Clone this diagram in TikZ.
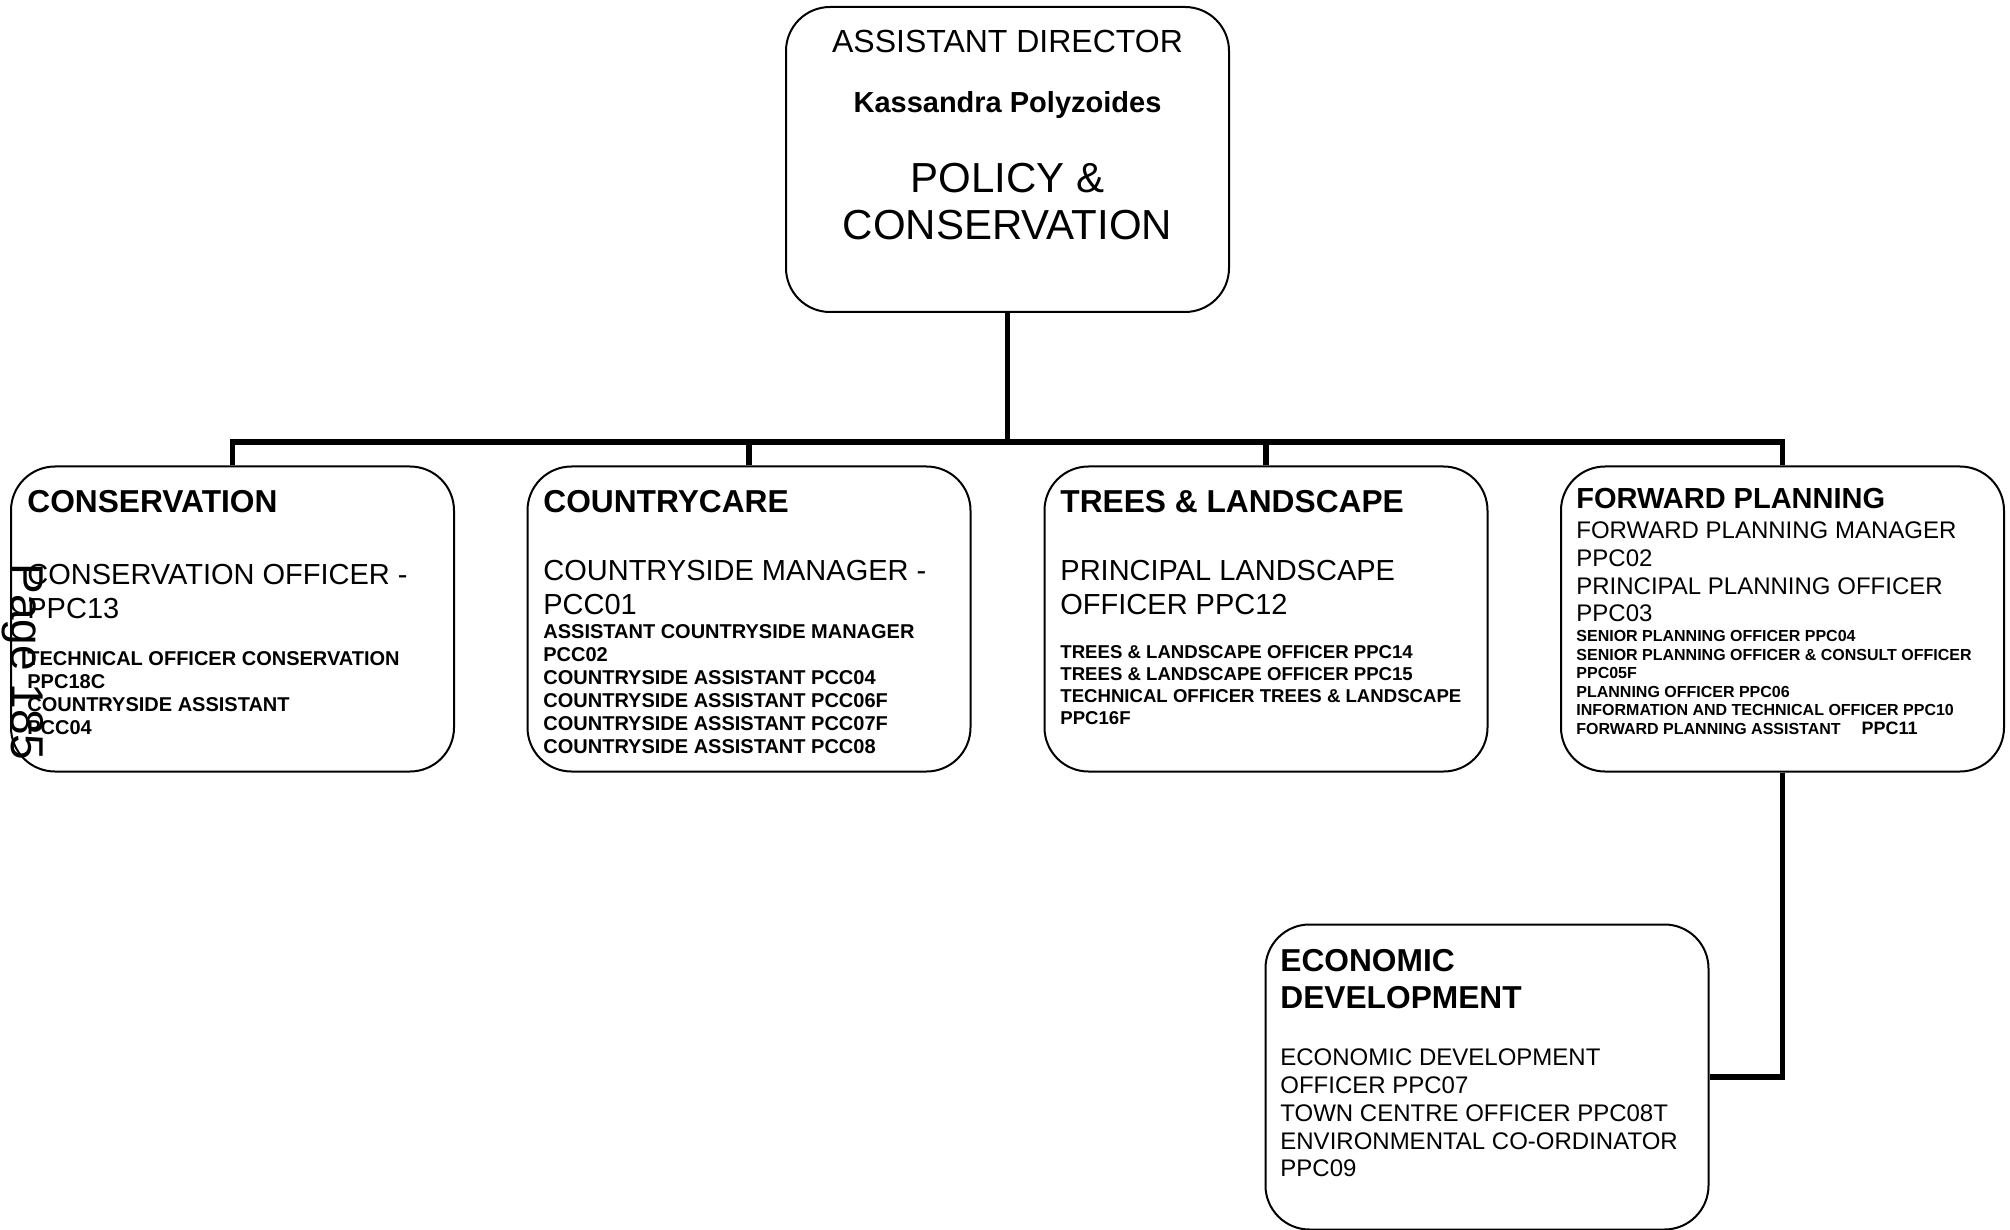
\documentclass[tikz,border=0pt]{standalone}
\usepackage{fontspec}
\setmainfont{Liberation Sans}
\usetikzlibrary{positioning}

\newcommand\fsz[2]{\fontsize{#1}{#2}\selectfont}

\begin{document}
\begin{tikzpicture}[x=0.5pt,y=-0.5pt,
 unit/.style={draw,line width=1pt,rounded corners=22pt,minimum width=221.5pt,minimum height=152.5pt,inner sep=0pt},
 txt/.style={anchor=north west,inner sep=0pt,align=left},
 head/.style={txt,font=\fsz{15.85}{18.5}\bfseries},
 post/.style={txt,font=\fsz{14.5}{16.75}},
 staff/.style={txt,font=\fsz{10}{11.5}\bfseries},
 link/.style={line width=2.8pt}]
\useasboundingbox (0,0) rectangle (2010,1230);

% boxes
\node[unit] (dir) at (1007.5,159.5) {};
\node[unit] (cons) at (232.5,619) {};
\node[unit] (care) at (749,619) {};
\node[unit] (trees) at (1266,619) {};
\node[unit] (fwd) at (1782.5,619) {};
\node[unit] (econ) at (1487,1077) {};

% lines
\coordinate (bus) at (1007.5,442);
\draw[link] (dir.south) -- (bus);
\draw[link] (cons.north) -- (cons.north |- bus) -- (fwd.north |- bus) -- (fwd.north);
\foreach \b in {care,trees} \draw[link] (\b.north) -- (\b.north |- bus);
\draw[link] (fwd.south) |- (econ.east);

% head of service
\node[font=\fsz{16}{19},anchor=base] (dir-a) at (1007.5,53) {ASSISTANT DIRECTOR};
\node[font=\fsz{14.5}{17}\bfseries,anchor=base] (dir-b) at (1007.5,113) {Kassandra Polyzoides};
\node[font=\fsz{21}{23.5},align=center,anchor=north,inner sep=0pt] (dir-c) at (1007.5,163) {POLICY \&\\CONSERVATION};

% conservation
\node[head] (cons-h) at (27,490) {CONSERVATION};
\node[post] (cons-p) at (27,564) {CONSERVATION OFFICER -\\PPC13};
\node[staff] (cons-s) at (27,651.5) {TECHNICAL OFFICER CONSERVATION\\PPC18C\\COUNTRYSIDE ASSISTANT\\PCC04};

% countrycare
\node[head] (care-h) at (543,490) {COUNTRYCARE};
\node[post] (care-p) at (543,560) {COUNTRYSIDE MANAGER -\\PCC01};
\node[staff] (care-s) at (543,624.5) {ASSISTANT COUNTRYSIDE MANAGER\\PCC02\\COUNTRYSIDE ASSISTANT PCC04\\COUNTRYSIDE ASSISTANT PCC06F\\COUNTRYSIDE ASSISTANT PCC07F\\COUNTRYSIDE ASSISTANT PCC08};

% trees
\node[head] (trees-h) at (1060,490) {TREES \& LANDSCAPE};
\node[post] (trees-p) at (1060,560) {PRINCIPAL LANDSCAPE\\OFFICER PPC12};
\node[staff,font=\fsz{9.3}{11}\bfseries] (trees-s) at (1060,645.5) {TREES \& LANDSCAPE OFFICER PPC14\\TREES \& LANDSCAPE OFFICER PPC15\\TECHNICAL OFFICER TREES \& LANDSCAPE\\PPC16F};

% forward planning
\node[head,font=\fsz{14.5}{17}\bfseries] (fwd-h) at (1576,488) {FORWARD PLANNING};
\node[txt,font=\fsz{12}{13.85}] (fwd-p) at (1576,521.5) {FORWARD PLANNING MANAGER\\PPC02\\PRINCIPAL PLANNING OFFICER\\PPC03};
\node[staff,font=\fsz{8}{9.3}\bfseries] (fwd-s) at (1576,630) {SENIOR PLANNING OFFICER PPC04\\SENIOR PLANNING OFFICER \& CONSULT OFFICER\\PPC05F\\PLANNING OFFICER PPC06\\INFORMATION AND TECHNICAL OFFICER PPC10\\FORWARD PLANNING ASSISTANT\hspace{10.5pt}{\fsz{9}{9.3}PPC11}};

% economic development
\node[head] (econ-h) at (1280,949) {ECONOMIC\\DEVELOPMENT};
\node[txt,font=\fsz{12}{13.9}] (econ-p) at (1280,1048.5) {ECONOMIC DEVELOPMENT\\OFFICER PPC07\\TOWN CENTRE OFFICER PPC08T\\ENVIRONMENTAL CO-ORDINATOR\\PPC09};

% page mark
\node[font=\fsz{23}{26},rotate=-90,anchor=base west,inner sep=0pt] (page) at (11,563) {Page 185};
\end{tikzpicture}
\end{document}
